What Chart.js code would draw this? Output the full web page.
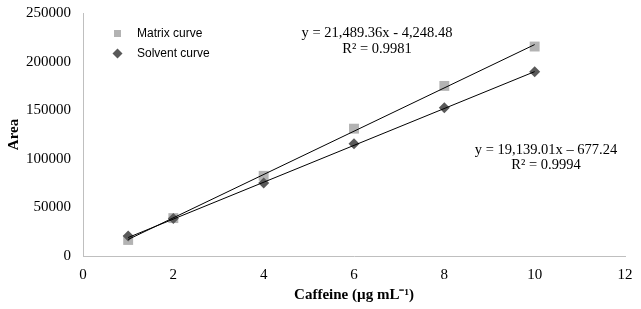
<!DOCTYPE html>
<html><head><meta charset="utf-8">
<script src="https://cdn.jsdelivr.net/npm/chart.js@4"></script>
<style>html,body{margin:0;padding:0;background:#fff}#wrap{width:641px;height:309px}</style>
</head><body><div id="wrap"><canvas id="c"></canvas></div>
<script>
const concentrations = [1, 2, 4, 6, 8, 10];
const matrixArea = [16500, 39000, 82500, 131000, 175000, 215500];
const solventArea = [20500, 38500, 75000, 115500, 152500, 189500];
const fitRangeX = [1, 10];
const matrixFitY = [17000, 217500];
const solventFitY = [19000, 189700];
const yTicks = [0, 50000, 100000, 150000, 200000, 250000];
const xTicks = [0, 2, 4, 6, 8, 10, 12];
const legendLabels = ['Matrix curve', 'Solvent curve'];
const eqMatrix = ['y = 21,489.36x - 4,248.48', 'R² = 0.9981'];
const eqSolvent = ['y = 19,139.01x – 677.24', 'R² = 0.9994'];

const pts = (xs, ys) => xs.map((x, i) => ({x, y: ys[i]}));
const serif = "'Liberation Serif','Times New Roman',serif";
const sans = "'Liberation Sans',Arial,sans-serif";

const overlay = {
  id: 'overlay',
  afterDraw(chart) {
    const ctx = chart.ctx;
    ctx.save();
    ctx.fillStyle = '#b3b3b3';
    ctx.fillRect(114, 30, 7, 7);
    ctx.fillStyle = '#595959';
    ctx.beginPath();
    ctx.moveTo(117.5, 48.5); ctx.lineTo(122.5, 53.5); ctx.lineTo(117.5, 58.5); ctx.lineTo(112.5, 53.5);
    ctx.closePath(); ctx.fill();
    ctx.fillStyle = '#000';
    ctx.font = '12px ' + sans;
    ctx.textBaseline = 'middle';
    ctx.textAlign = 'left';
    ctx.fillText(legendLabels[0], 137, 33.5);
    ctx.fillText(legendLabels[1], 137, 54);
    ctx.font = '14.5px ' + serif;
    ctx.textAlign = 'center';
    ctx.fillText(eqMatrix[0], 377, 33);
    ctx.fillText(eqMatrix[1], 377, 49);
    ctx.fillText(eqSolvent[0], 546, 150);
    ctx.fillText(eqSolvent[1], 546, 165);
    ctx.restore();
  }
};

new Chart(document.getElementById('c'), {
  type: 'scatter',
  data: {
    datasets: [
      {label: 'Matrix fit', data: pts(fitRangeX, matrixFitY), showLine: true, borderColor: '#000', borderWidth: 1, pointRadius: 0, pointHoverRadius: 0, fill: false},
      {label: 'Solvent fit', data: pts(fitRangeX, solventFitY), showLine: true, borderColor: '#000', borderWidth: 1, pointRadius: 0, pointHoverRadius: 0, fill: false},
      {label: legendLabels[1], data: pts(concentrations, solventArea), pointStyle: 'rectRot', pointRadius: 5.5, backgroundColor: '#595959', borderColor: '#595959', borderWidth: 0},
      {label: legendLabels[0], data: pts(concentrations, matrixArea), pointStyle: 'rect', pointRadius: 7, backgroundColor: '#b3b3b3', borderColor: '#b3b3b3', borderWidth: 0}
    ]
  },
  options: {
    responsive: true, maintainAspectRatio: false, animation: false,
    layout: {padding: {left: 0, top: 13, right: 16, bottom: 0}},
    plugins: {legend: {display: false}, tooltip: {enabled: false}},
    scales: {
      x: {
        type: 'linear', min: 0, max: 12,
        afterBuildTicks(s) { s.ticks = xTicks.map(v => ({value: v})); },
        afterFit(s) { s.height = 53; s.paddingLeft = 0; s.paddingRight = 0; },
        grid: {display: false, drawTicks: false},
        border: {display: true, color: '#bfbfbf', width: 1},
        ticks: {padding: 10, color: '#000', font: {family: serif, size: 15}, maxRotation: 0},
        title: {display: true, text: 'Caffeine (µg mL⁻¹)', color: '#000', font: {family: serif, size: 15, weight: 'bold'}, padding: {top: 0, bottom: 5}}
      },
      y: {
        type: 'linear', min: 0, max: 250000,
        afterBuildTicks(s) { s.ticks = yTicks.map(v => ({value: v})); },
        afterFit(s) { s.width = 83; s.paddingTop = 0; s.paddingBottom = 0; },
        grid: {display: false, drawTicks: false},
        border: {display: true, color: '#bfbfbf', width: 1},
        ticks: {padding: 12, color: '#000', font: {family: serif, size: 15}, callback: v => String(v)},
        title: {display: true, text: 'Area', color: '#000', font: {family: serif, size: 15, weight: 'bold'}, padding: {top: 5, bottom: 0}}
      }
    }
  },
  plugins: [overlay]
});
</script></body></html>
